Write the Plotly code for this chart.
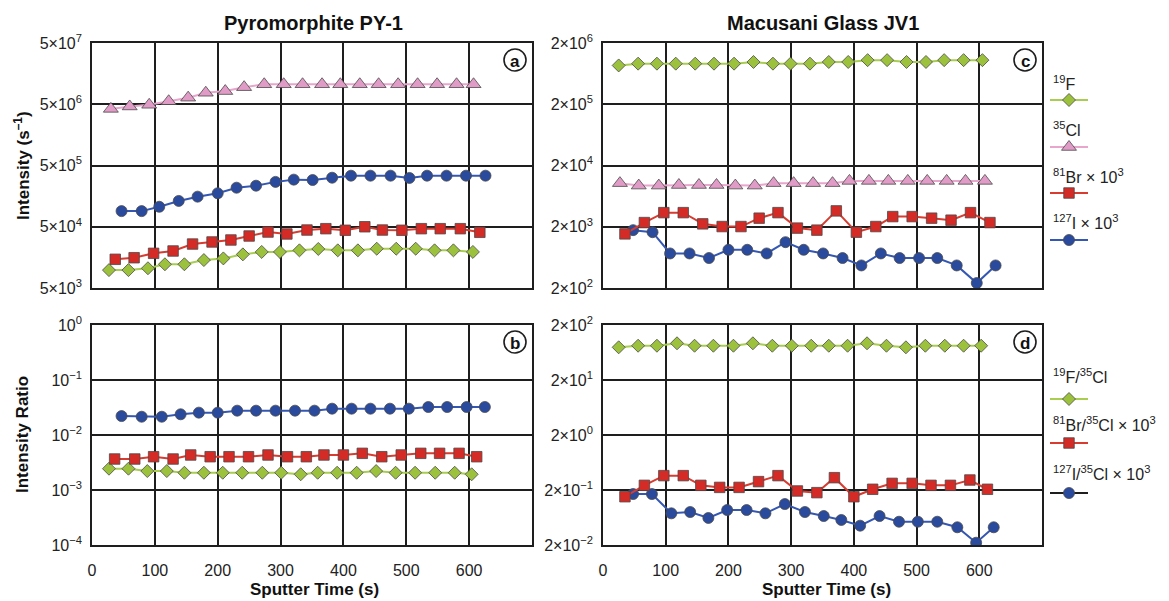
import math
import plotly.graph_objects as go

# ---------------- data ----------------
# (a) Pyromorphite PY-1 intensities (s^-1)
a_f_t = [27, 58, 89, 116, 147, 178, 209, 240, 270, 299, 330, 360, 391, 423, 453, 484, 515, 545, 575, 606]
a_f = [9.8e3, 9.8e3, 1.05e4, 1.22e4, 1.22e4, 1.43e4, 1.52e4, 1.77e4, 1.94e4, 1.94e4,
       2.06e4, 2.17e4, 2.06e4, 2.06e4, 2.19e4, 2.19e4, 2.19e4, 2.06e4, 2.06e4, 1.94e4]
a_cl_t = [30, 60, 91, 122, 153, 181, 212, 242, 274, 305, 335, 366, 395, 426, 456, 487, 518, 549, 580, 607]
a_cl = [4.2e6, 4.6e6, 4.9e6, 5.6e6, 6.4e6, 7.7e6, 8.2e6, 9.5e6, 1.06e7, 1.06e7,
        1.06e7, 1.06e7, 1.06e7, 1.06e7, 1.06e7, 1.06e7, 1.06e7, 1.06e7, 1.06e7, 1.06e7]
a_br_t = [37, 67, 98, 129, 160, 191, 221, 250, 280, 310, 342, 372, 403, 434, 462, 493, 524, 554, 586, 617]
a_br = [1.47e4, 1.56e4, 1.84e4, 2.01e4, 2.61e4, 2.82e4, 3.04e4, 3.53e4, 4.1e4, 3.81e4,
        4.42e4, 4.65e4, 4.38e4, 5.0e4, 4.42e4, 4.38e4, 4.65e4, 4.65e4, 4.65e4, 4.06e4]
a_i_t = [47, 79, 107, 138, 168, 200, 230, 261, 292, 321, 351, 382, 412, 443, 475, 505, 533, 564, 595, 626]
a_i = [9.0e4, 9.0e4, 1.06e5, 1.32e5, 1.55e5, 1.76e5, 2.17e5, 2.34e5, 2.7e5, 2.94e5,
       2.9e5, 3.16e5, 3.41e5, 3.41e5, 3.41e5, 3.13e5, 3.41e5, 3.41e5, 3.41e5, 3.41e5]

# (b) Pyromorphite PY-1 ratios to 35Cl
b_f_t = [27, 58, 88, 119, 147, 178, 208, 239, 271, 301, 332, 359, 390, 421, 452, 483, 514, 546, 577, 604]
b_f = [2.44e-3, 2.44e-3, 2.21e-3, 2.21e-3, 2.06e-3, 2.06e-3, 2.06e-3, 2.06e-3, 2.06e-3, 2.06e-3,
       1.93e-3, 2.06e-3, 2.06e-3, 2.06e-3, 2.21e-3, 2.06e-3, 2.06e-3, 2.06e-3, 2.06e-3, 1.93e-3]
b_br_t = [36, 68, 98, 129, 157, 188, 218, 249, 280, 311, 341, 369, 400, 430, 461, 492, 523, 553, 584, 612]
b_br = [3.66e-3, 3.66e-3, 4.03e-3, 3.66e-3, 4.33e-3, 4.03e-3, 4.03e-3, 4.03e-3, 4.33e-3, 4.03e-3,
        4.03e-3, 4.33e-3, 4.33e-3, 4.64e-3, 4.03e-3, 4.33e-3, 4.64e-3, 4.64e-3, 4.64e-3, 4.03e-3]
b_i_t = [47, 79, 111, 141, 170, 200, 231, 261, 292, 323, 354, 382, 413, 443, 474, 504, 535, 565, 596, 625]
b_i = [0.0221, 0.0215, 0.0215, 0.0238, 0.0255, 0.0255, 0.0277, 0.0277, 0.0277, 0.0277,
       0.0277, 0.0301, 0.0301, 0.0301, 0.0301, 0.0301, 0.0323, 0.0323, 0.0323, 0.0323]

# (c) Macusani Glass JV1 intensities (Br and I scaled x1000)
c_f_t = [25, 56, 86, 116, 147, 177, 209, 240, 271, 299, 330, 360, 391, 422, 453, 484, 515, 544, 575, 605]
c_f = [8.6e5, 9.2e5, 9.2e5, 9.2e5, 9.2e5, 9.2e5, 9.2e5, 9.8e5, 9.2e5, 9.2e5,
       9.2e5, 9.8e5, 9.8e5, 1.05e6, 1.05e6, 9.8e5, 9.8e5, 1.05e6, 1.05e6, 1.05e6]
c_cl_t = [27, 57, 89, 121, 153, 181, 211, 242, 272, 304, 335, 366, 393, 424, 455, 486, 517, 548, 578, 609]
c_cl = [1.03e4, 9.4e3, 9.4e3, 9.6e3, 9.6e3, 9.6e3, 9.4e3, 9.4e3, 1.03e4, 1.03e4,
        1.03e4, 1.03e4, 1.12e4, 1.12e4, 1.12e4, 1.12e4, 1.12e4, 1.12e4, 1.12e4, 1.12e4]
c_br_t = [35, 66, 97, 128, 159, 190, 220, 249, 279, 310, 341, 372, 404, 435, 462, 493, 524, 555, 586, 617]
c_br = [1530, 2340, 3400, 3400, 2230, 2015, 2015, 2760, 3400, 1900,
        1760, 3630, 1630, 2015, 2930, 2930, 2760, 2560, 3400, 2340]
c_i_t = [48, 79, 107, 138, 169, 200, 230, 261, 291, 320, 351, 382, 412, 443, 473, 504, 533, 564, 596, 626]
c_i = [1760, 1630, 733, 733, 617, 841, 841, 733, 1120, 841,
       733, 617, 467, 733, 617, 617, 617, 467, 241, 467]

# (d) Macusani Glass JV1 ratios to 35Cl (Br and I scaled x1000)
d_f_t = [25, 56, 86, 118, 146, 176, 208, 239, 270, 301, 332, 360, 390, 421, 452, 483, 514, 545, 575, 603]
d_f = [78.6, 84, 84, 93, 84, 84, 84, 93, 84, 84, 84, 84, 84, 93, 84, 78.6, 84, 84, 84, 84]
d_br_t = [35, 66, 97, 128, 156, 186, 217, 248, 279, 310, 341, 369, 400, 430, 461, 493, 523, 554, 585, 613]
d_br = [0.151, 0.243, 0.365, 0.365, 0.243, 0.223, 0.223, 0.284, 0.365, 0.192,
        0.179, 0.335, 0.151, 0.206, 0.264, 0.264, 0.243, 0.243, 0.304, 0.206]
d_i_t = [48, 78, 109, 139, 168, 198, 229, 259, 290, 322, 352, 380, 410, 441, 472, 502, 533, 565, 595, 623]
d_i = [0.169, 0.169, 0.0753, 0.0796, 0.062, 0.0865, 0.0865, 0.0753, 0.111, 0.0796,
       0.0673, 0.057, 0.0449, 0.0673, 0.053, 0.053, 0.053, 0.042, 0.022, 0.042]

# tick labels
x_ticks = [0, 100, 200, 300, 400, 500, 600]
a_ytick_vals = [5e3, 5e4, 5e5, 5e6, 5e7]
a_ytick_text = ["5×10<sup>3</sup>", "5×10<sup>4</sup>", "5×10<sup>5</sup>", "5×10<sup>6</sup>", "5×10<sup>7</sup>"]
b_ytick_vals = [1e-4, 1e-3, 1e-2, 1e-1, 1e0]
b_ytick_text = ["10<sup>−4</sup>", "10<sup>−3</sup>", "10<sup>−2</sup>", "10<sup>−1</sup>", "10<sup>0</sup>"]
c_ytick_vals = [2e2, 2e3, 2e4, 2e5, 2e6]
c_ytick_text = ["2×10<sup>2</sup>", "2×10<sup>3</sup>", "2×10<sup>4</sup>", "2×10<sup>5</sup>", "2×10<sup>6</sup>"]
d_ytick_vals = [2e-2, 2e-1, 2e0, 2e1, 2e2]
d_ytick_text = ["2×10<sup>−2</sup>", "2×10<sup>−1</sup>", "2×10<sup>0</sup>", "2×10<sup>1</sup>", "2×10<sup>2</sup>"]

legend_top = ["<sup>19</sup>F", "<sup>35</sup>Cl", "<sup>81</sup>Br × 10<sup>3</sup>", "<sup>127</sup>I × 10<sup>3</sup>"]
legend_bottom = ["<sup>19</sup>F/<sup>35</sup>Cl", "<sup>81</sup>Br/<sup>35</sup>Cl × 10<sup>3</sup>",
                 "<sup>127</sup>I/<sup>35</sup>Cl × 10<sup>3</sup>"]

# ---------------- styles ----------------
W, H = 1169, 601
FONT = "Liberation Sans, Arial, sans-serif"
INK = "#1e1e1e"
EDGE = "#4a4a4a"
STY = {
    "F": dict(fill="#9cc23d", line="#a8cd50", symbol="diamond", size=10),
    "Cl": dict(fill="#e09cc6", line="#e9a6cd", symbol="triangle-up", size=13),
    "Br": dict(fill="#d42b26", line="#d83b2f", symbol="square", size=10.5),
    "I": dict(fill="#2a4a9e", line="#3457b4", symbol="circle", size=11),
}


def px(x):
    return x / W


def py(y):
    return 1 - y / H


fig = go.Figure()


def add_series(t, v, key, xa, ya):
    s = STY[key]
    fig.add_trace(go.Scatter(
        x=t, y=v, mode="lines+markers", xaxis=xa, yaxis=ya, showlegend=False,
        line=dict(color=s["line"], width=2),
        marker=dict(symbol=s["symbol"], size=s["size"], color=s["fill"],
                    line=dict(color=EDGE, width=0.8)),
        hoverinfo="x+y",
    ))


# draw order: lower series first
add_series(a_f_t, a_f, "F", "x", "y")
add_series(a_br_t, a_br, "Br", "x", "y")
add_series(a_i_t, a_i, "I", "x", "y")
add_series(a_cl_t, a_cl, "Cl", "x", "y")

add_series(b_f_t, b_f, "F", "x2", "y2")
add_series(b_br_t, b_br, "Br", "x2", "y2")
add_series(b_i_t, b_i, "I", "x2", "y2")

add_series(c_i_t, c_i, "I", "x3", "y3")
add_series(c_br_t, c_br, "Br", "x3", "y3")
add_series(c_cl_t, c_cl, "Cl", "x3", "y3")
add_series(c_f_t, c_f, "F", "x3", "y3")

add_series(d_i_t, d_i, "I", "x4", "y4")
add_series(d_br_t, d_br, "Br", "x4", "y4")
add_series(d_f_t, d_f, "F", "x4", "y4")

# ---------------- axes ----------------
left_dom = [px(92), px(532)]
right_dom = [px(603), px(1042)]
top_dom = [py(288), py(43)]
bot_dom = [py(545), py(325)]

common_x = dict(range=[0, 700], tickvals=x_ticks, showgrid=True, gridcolor=INK, gridwidth=1.5,
                showline=True, mirror=True, linecolor=INK, linewidth=1.6, ticks="",
                ticklabelstandoff=10, automargin=False,
                zeroline=False, tickfont=dict(family=FONT, size=16, color="#222"))
common_y = dict(type="log", showgrid=True, gridcolor=INK, gridwidth=1.5,
                showline=True, mirror=True, linecolor=INK, linewidth=1.6, ticks="",
                ticklabelstandoff=5, automargin=False,
                zeroline=False, tickfont=dict(family=FONT, size=16, color="#222"))

fig.update_layout(
    xaxis=dict(common_x, domain=left_dom, anchor="y", showticklabels=False),
    yaxis=dict(common_y, domain=top_dom, anchor="x",
               range=[math.log10(5e3), math.log10(5e7)], tickvals=a_ytick_vals, ticktext=a_ytick_text),
    xaxis2=dict(common_x, domain=left_dom, anchor="y2"),
    yaxis2=dict(common_y, domain=bot_dom, anchor="x2",
                range=[-4, 0], tickvals=b_ytick_vals, ticktext=b_ytick_text),
    xaxis3=dict(common_x, domain=right_dom, anchor="y3", showticklabels=False),
    yaxis3=dict(common_y, domain=top_dom, anchor="x3",
                range=[math.log10(2e2), math.log10(2e6)], tickvals=c_ytick_vals, ticktext=c_ytick_text),
    xaxis4=dict(common_x, domain=right_dom, anchor="y4"),
    yaxis4=dict(common_y, domain=bot_dom, anchor="x4",
                range=[math.log10(2e-2), math.log10(2e2)], tickvals=d_ytick_vals, ticktext=d_ytick_text),
    # pixel-space axis for the legend keys on the right
    xaxis5=dict(domain=[px(1042), 1], range=[1042, W], visible=False, anchor="y5",
                fixedrange=True, automargin=False),
    yaxis5=dict(domain=[0, 1], range=[H, 0], visible=False, anchor="x5",
                fixedrange=True, automargin=False),
)

# ---------------- legend keys ----------------
key_x0, key_x1, key_mid = 1050, 1088, 1069
top_keys = [("F", 100, None), ("Cl", 147, None), ("Br", 193, None), ("I", 240, None)]
bot_keys = [("F", 399, None), ("Br", 443, None), ("I", 493, INK)]
for key, yk, line_override in top_keys + bot_keys:
    s = STY[key]
    fig.add_trace(go.Scatter(
        x=[key_x0, key_x1], y=[yk, yk], mode="lines", xaxis="x5", yaxis="y5",
        showlegend=False, hoverinfo="skip",
        line=dict(color=line_override or s["line"], width=2)))
    fig.add_trace(go.Scatter(
        x=[key_mid], y=[yk], mode="markers", xaxis="x5", yaxis="y5",
        showlegend=False, hoverinfo="skip",
        marker=dict(symbol=s["symbol"], size=s["size"], color=s["fill"],
                    line=dict(color=EDGE, width=0.8))))

annotations = []
label_y_top = [83, 129, 176, 222]
label_y_bot = [376, 424, 473]
for txt, yy in zip(legend_top + legend_bottom, label_y_top + label_y_bot):
    annotations.append(dict(x=px(1051), y=py(yy), xref="paper", yref="paper", text=txt,
                            showarrow=False, xanchor="left", yanchor="middle",
                            font=dict(family=FONT, size=16, color="#222")))

# titles
annotations += [
    dict(x=px(313), y=py(23), xref="paper", yref="paper", text="<b>Pyromorphite PY-1</b>",
         showarrow=False, xanchor="center", yanchor="middle",
         font=dict(family=FONT, size=20, color="#111")),
    dict(x=px(823), y=py(23), xref="paper", yref="paper", text="<b>Macusani Glass JV1</b>",
         showarrow=False, xanchor="center", yanchor="middle",
         font=dict(family=FONT, size=20, color="#111")),
    dict(x=px(314), y=py(589), xref="paper", yref="paper", text="<b>Sputter Time (s)</b>",
         showarrow=False, xanchor="center", yanchor="middle",
         font=dict(family=FONT, size=17, color="#111")),
    dict(x=px(826), y=py(589), xref="paper", yref="paper", text="<b>Sputter Time (s)</b>",
         showarrow=False, xanchor="center", yanchor="middle",
         font=dict(family=FONT, size=17, color="#111")),
    dict(x=px(22), y=py(166), xref="paper", yref="paper", text="<b>Intensity (s<sup>–1</sup>)</b>",
         showarrow=False, textangle=-90, xanchor="center", yanchor="middle",
         font=dict(family=FONT, size=17, color="#111")),
    dict(x=px(22), y=py(435), xref="paper", yref="paper", text="<b>Intensity Ratio</b>",
         showarrow=False, textangle=-90, xanchor="center", yanchor="middle",
         font=dict(family=FONT, size=17, color="#111")),
]

# circled panel letters
shapes = []
for letter, cx, cy in [("a", 515, 60), ("b", 515, 342), ("c", 1025, 60), ("d", 1025, 342)]:
    r = 11
    shapes.append(dict(type="circle", xref="paper", yref="paper",
                       x0=px(cx - r), x1=px(cx + r), y0=py(cy + r), y1=py(cy - r),
                       line=dict(color=INK, width=1.6), fillcolor="white"))
    annotations.append(dict(x=px(cx), y=py(cy + 1), xref="paper", yref="paper", text=f"<b>{letter}</b>",
                            showarrow=False, xanchor="center", yanchor="middle",
                            font=dict(family=FONT, size=17, color="#111")))

fig.update_layout(
    template="none",
    width=W, height=H,
    margin=dict(l=0, r=0, t=0, b=0, pad=0, autoexpand=False),
    paper_bgcolor="white", plot_bgcolor="white",
    annotations=annotations, shapes=shapes,
    showlegend=False,
    font=dict(family=FONT),
)

fig.write_html("out.html")
